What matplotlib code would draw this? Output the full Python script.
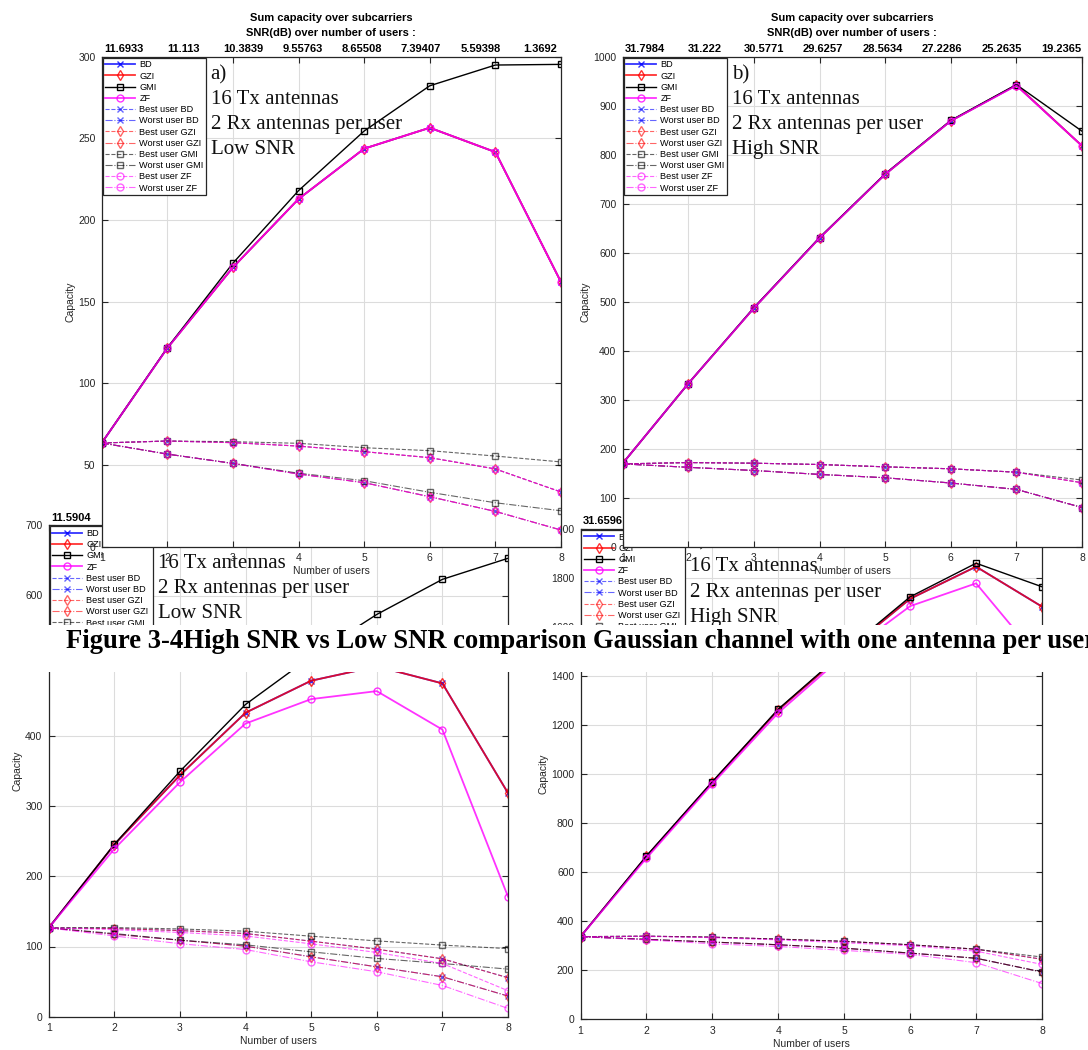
import matplotlib
matplotlib.use("Agg")
import matplotlib.pyplot as plt
from matplotlib.patches import Rectangle
import numpy as np

plt.rcParams['font.family'] = ['Liberation Sans', 'DejaVu Sans']

W, H = 1088, 1050

users = [1, 2, 3, 4, 5, 6, 7, 8]

# a) 16 Tx, 2 Rx per user, low SNR
a_bd = [63.5, 121.6, 171.0, 212.9, 243.7, 256.5, 241.6, 162.0]
a_gzi = [63.5, 121.6, 171.0, 212.9, 243.7, 256.5, 241.6, 162.0]
a_gmi = [63.5, 121.8, 173.6, 218.0, 254.5, 282.2, 294.9, 295.3]
a_zf = [63.5, 121.6, 171.0, 212.9, 243.7, 256.5, 241.6, 162.0]
a_best_bd = [63.5, 64.7, 63.7, 61.6, 58.2, 54.5, 47.6, 33.5]
a_worst_bd = [63.5, 56.7, 51.0, 44.5, 39.2, 30.6, 21.6, 10.2]
a_best_gzi = [63.5, 64.7, 63.7, 61.6, 58.2, 54.5, 47.6, 33.5]
a_worst_gzi = [63.5, 56.7, 51.0, 44.5, 39.2, 30.6, 21.6, 10.2]
a_best_gmi = [63.5, 64.7, 64.3, 63.3, 60.6, 58.8, 55.5, 51.9]
a_worst_gmi = [63.5, 56.7, 51.0, 45.0, 40.4, 33.3, 26.9, 22.0]
a_best_zf = [63.5, 64.7, 63.7, 61.6, 58.2, 54.5, 47.6, 33.5]
a_worst_zf = [63.5, 56.7, 51.0, 44.5, 39.2, 30.6, 21.6, 10.2]
a_snr = ["11.6933", "11.113", "10.3839", "9.55763", "8.65508", "7.39407", "5.59398", "1.3692"]

# b) 16 Tx, 2 Rx per user, high SNR
b_bd = [170, 333, 487, 630, 760, 869, 942, 818]
b_gzi = [170, 333, 487, 630, 760, 869, 942, 818]
b_gmi = [170, 333, 488, 631, 761, 870, 943, 848]
b_zf = [170, 333, 487, 630, 760, 869, 941, 818]
b_best_bd = [169, 171.7, 170.4, 167.7, 163, 159, 152, 130.6]
b_worst_bd = [169, 162, 155.5, 147.5, 140.7, 130, 117, 80]
b_best_gzi = [169, 171.7, 170.4, 167.7, 163, 159, 152, 130.6]
b_worst_gzi = [169, 162, 155.5, 147.5, 140.7, 130, 117, 80]
b_best_gmi = [169, 171.7, 170.4, 167.7, 163, 159, 152, 136]
b_worst_gmi = [169, 162, 155.5, 147.5, 140.7, 130, 117, 80]
b_best_zf = [169, 171.7, 170.4, 167.7, 163, 159, 152, 130.6]
b_worst_zf = [169, 162, 155.5, 147.5, 140.7, 130, 117, 80]
b_snr = ["31.7984", "31.222", "30.5771", "29.6257", "28.5634", "27.2286", "25.2635", "19.2365"]

# c) low SNR (lower left)
c_bd = [126.5, 245, 344, 433, 478.6, 499, 474.8, 318.6]
c_gzi = [126.5, 245, 344, 433, 478.6, 499, 474.8, 318.6]
c_gmi = [126.5, 245.5, 349.5, 444.8, 513, 573, 623, 653]
c_zf = [126.5, 239, 334, 417.6, 452.4, 463.8, 409, 171]
c_best_bd = [126.5, 125.6, 122.7, 118.5, 107.6, 96.2, 82.5, 55.5]
c_worst_bd = [126.5, 117.5, 109, 100.5, 85.3, 71, 56.9, 29.4]
c_best_gzi = [126.5, 125.6, 122.7, 118.5, 107.6, 96.2, 82.5, 55.5]
c_worst_gzi = [126.5, 117.5, 109, 100.5, 85.3, 71, 56.9, 29.4]
c_best_gmi = [126.5, 127, 125, 121.8, 114.7, 108, 102, 97]
c_worst_gmi = [126.5, 118.5, 109, 102.4, 92.4, 83, 75.8, 67.8]
c_best_zf = [126.5, 124, 120, 115, 103.8, 91.5, 75.8, 37]
c_worst_zf = [126.5, 115, 104, 95.7, 78.2, 64, 44.5, 11.8]
c_snr = ["11.5904"]

# d) high SNR (lower right)
d_bd = [337, 664, 967, 1262, 1495, 1715, 1846, 1683]
d_gzi = [337, 664, 967, 1262, 1495, 1715, 1846, 1683]
d_gmi = [337, 666, 969, 1265, 1500, 1723, 1860, 1764]
d_zf = [337, 657, 960, 1250, 1485, 1685, 1778, 1455]
d_best_bd = [337, 339, 335, 327, 318, 304, 286, 245]
d_worst_bd = [337, 326, 315, 304, 290, 270, 249, 193]
d_best_gzi = [337, 339, 335, 327, 318, 304, 286, 245]
d_worst_gzi = [337, 326, 315, 304, 290, 270, 249, 193]
d_best_gmi = [337, 339, 335, 327, 318, 304, 286, 254]
d_worst_gmi = [337, 326, 315, 304, 290, 270, 249, 193]
d_best_zf = [337, 338, 333, 324, 312, 300, 278, 224]
d_worst_zf = [337, 324, 308, 297, 281, 265, 231, 146]
d_snr = ["31.6596"]

text_a = ["a)", "16 Tx antennas", "2 Rx antennas per user", "Low SNR"]
text_b = ["b)", "16 Tx antennas", "2 Rx antennas per user", "High SNR"]
text_c = ["c)", "16 Tx antennas", "2 Rx antennas per user", "Low SNR"]
text_d = ["d)", "16 Tx antennas", "2 Rx antennas per user", "High SNR"]

caption = "Figure 3-4High SNR vs Low SNR comparison Gaussian channel with one antenna per user"

schemes = ["BD", "GZI", "GMI", "ZF"]
colors = {"BD": (0, 0, 1), "GZI": (1, 0, 0), "GMI": (0, 0, 0), "ZF": (1, 0, 1)}
markers = {"BD": "x", "GZI": "d", "GMI": "s", "ZF": "o"}
dark = "#262626"


def add_axes_px(left, top, right, bottom, z):
    ax = plt.gcf().add_axes([left / W, 1 - bottom / H, (right - left) / W, (bottom - top) / H])
    ax.set_zorder(z)
    ax.set_facecolor("white")
    return ax


def draw_panel(ax, sums, bests, worsts, ymax, ystep, snr, lines, text_top, text_step, title=True):
    for s in schemes:
        lw = 1.0 if s == "GMI" else 1.3
        al = 1.0 if s == "GMI" else 0.8
        ax.plot(users, sums[s], '-', color=colors[s], marker=markers[s], lw=lw, alpha=al,
                ms=5, mfc='none', mew=1, label=s)
    for s in schemes:
        ax.plot(users, bests[s], '--', color=colors[s], marker=markers[s], lw=0.8, alpha=0.6,
                ms=5, mfc='none', mew=1, label="Best user " + s)
        ax.plot(users, worsts[s], '-.', color=colors[s], marker=markers[s], lw=0.8, alpha=0.6,
                ms=5, mfc='none', mew=1, label="Worst user " + s)
    ax.set_xlim(1, 8)
    ax.set_ylim(0, ymax)
    ax.set_xticks(users)
    ax.set_yticks(np.arange(0, ymax + 1, ystep))
    ax.grid(True, color="#dcdcdc", lw=0.8)
    ax.set_axisbelow(True)
    ax.tick_params(direction="in", length=4, width=0.8, color=dark, labelcolor=dark,
                   labelsize=7.5, top=True, right=True, pad=4.5)
    for sp in ax.spines.values():
        sp.set_color(dark)
        sp.set_linewidth(0.9)
    ax.set_xlabel("Number of users", fontsize=7.5, color=dark, labelpad=2.5)
    ax.set_ylabel("Capacity", fontsize=7.5, color=dark, labelpad=2)

    handles, labels = ax.get_legend_handles_labels()
    leg = ax.legend(handles, labels, loc="upper left", bbox_to_anchor=(0, 1), borderaxespad=0.1,
                    fontsize=6.6, labelspacing=0.24, handlelength=3.2, handletextpad=0.5,
                    borderpad=0.3, fancybox=False, framealpha=1, edgecolor=dark, numpoints=1)
    leg.get_frame().set_linewidth(0.9)

    # SNR per number of users written along the top edge
    sec = ax.secondary_xaxis("top")
    pos = np.linspace(1.34, 7.68, 8)[:len(snr)]
    sec.set_xticks(pos, snr)
    sec.tick_params(length=0, pad=2, labelsize=8)
    for t in sec.get_xticklabels():
        t.set_fontweight("bold")
    sec.spines["top"].set_visible(False)

    if title:
        ax.text(0.5, 1.0796, "Sum capacity over subcarriers", transform=ax.transAxes,
                ha="center", va="center", fontsize=8, fontweight="bold")
        ax.text(0.5, 1.0484, "SNR(dB) over number of users :", transform=ax.transAxes,
                ha="center", va="center", fontsize=8, fontweight="bold")

    bb_h = ax.get_position().height * H
    bb_w = ax.get_position().width * W
    for i, line in enumerate(lines):
        ax.text(109 / bb_w, 1 - (text_top + i * text_step) / bb_h, line, transform=ax.transAxes,
                ha="left", va="center", fontsize=15, family="Liberation Serif", color="#111111")


fig = plt.figure(figsize=(W / 100, H / 100), dpi=100)
fig.patch.set_facecolor("white")

ax_c = add_axes_px(48.7, 525.3, 508, 1016.7, 1)
draw_panel(ax_c,
           {"BD": c_bd, "GZI": c_gzi, "GMI": c_gmi, "ZF": c_zf},
           {"BD": c_best_bd, "GZI": c_best_gzi, "GMI": c_best_gmi, "ZF": c_best_zf},
           {"BD": c_worst_bd, "GZI": c_worst_gzi, "GMI": c_worst_gmi, "ZF": c_worst_zf},
           700, 100, c_snr, text_c, 12.2, 25.5, title=False)

ax_d = add_axes_px(580.5, 528.9, 1042, 1019.3, 1)
draw_panel(ax_d,
           {"BD": d_bd, "GZI": d_gzi, "GMI": d_gmi, "ZF": d_zf},
           {"BD": d_best_bd, "GZI": d_best_gzi, "GMI": d_best_gmi, "ZF": d_best_zf},
           {"BD": d_worst_bd, "GZI": d_worst_gzi, "GMI": d_worst_gmi, "ZF": d_worst_zf},
           2000, 200, d_snr, text_d, 12.2, 25.5, title=False)

ax_a = add_axes_px(101.7, 56.7, 561, 546.7, 2)
draw_panel(ax_a,
           {"BD": a_bd, "GZI": a_gzi, "GMI": a_gmi, "ZF": a_zf},
           {"BD": a_best_bd, "GZI": a_best_gzi, "GMI": a_best_gmi, "ZF": a_best_zf},
           {"BD": a_worst_bd, "GZI": a_worst_gzi, "GMI": a_worst_gmi, "ZF": a_worst_zf},
           300, 50, a_snr, text_a, 18.3, 24.7)

ax_b = add_axes_px(622.7, 56.7, 1082, 546.7, 2)
draw_panel(ax_b,
           {"BD": b_bd, "GZI": b_gzi, "GMI": b_gmi, "ZF": b_zf},
           {"BD": b_best_bd, "GZI": b_best_gzi, "GMI": b_best_gmi, "ZF": b_best_zf},
           {"BD": b_worst_bd, "GZI": b_worst_gzi, "GMI": b_worst_gmi, "ZF": b_worst_zf},
           1000, 100, b_snr, text_b, 18.3, 24.7)

# caption strip from the page lies over the pasted figures
fig.patches.append(Rectangle((0, 1 - 672 / H), 1, 47 / H, transform=fig.transFigure,
                             facecolor="white", edgecolor="none", zorder=10))
fig.text(66 / W, 1 - 642 / H, caption, ha="left", va="center", fontsize=19.2,
         family="Liberation Serif", fontweight="bold", zorder=11)

fig.savefig("out.png", dpi=100)
